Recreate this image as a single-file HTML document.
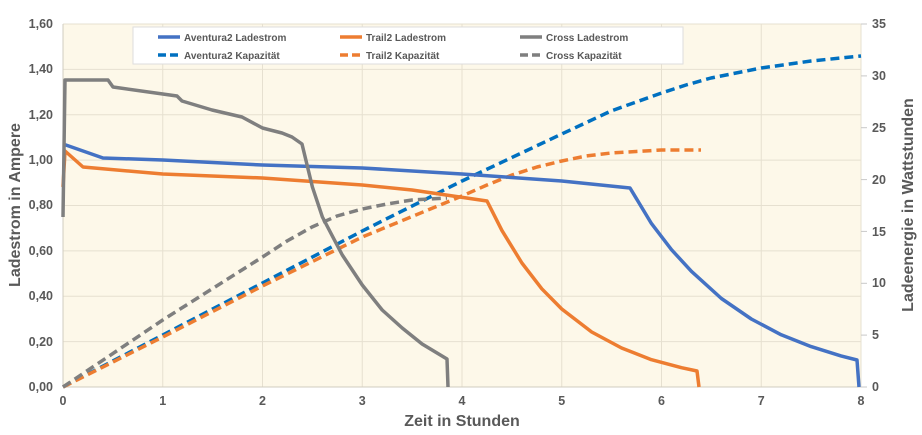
<!DOCTYPE html><html><head><meta charset="utf-8"><style>body{margin:0;background:#fff}svg{display:block;font-family:"Liberation Sans",sans-serif}</style></head><body>
<svg width="922" height="435" viewBox="0 0 922 435">
<rect x="63" y="24" width="798" height="363" fill="#fdf8e9"/>
<g stroke="#e6e0d0" stroke-width="1">
<line x1="63" y1="341.6" x2="861" y2="341.6"/><line x1="63" y1="296.3" x2="861" y2="296.3"/><line x1="63" y1="250.9" x2="861" y2="250.9"/><line x1="63" y1="205.5" x2="861" y2="205.5"/><line x1="63" y1="160.1" x2="861" y2="160.1"/><line x1="63" y1="114.8" x2="861" y2="114.8"/><line x1="63" y1="69.4" x2="861" y2="69.4"/><line x1="63" y1="24" x2="861" y2="24"/>
<line x1="162.75" y1="24" x2="162.75" y2="387"/><line x1="262.5" y1="24" x2="262.5" y2="387"/><line x1="362.25" y1="24" x2="362.25" y2="387"/><line x1="462" y1="24" x2="462" y2="387"/><line x1="561.75" y1="24" x2="561.75" y2="387"/><line x1="661.5" y1="24" x2="661.5" y2="387"/><line x1="761.25" y1="24" x2="761.25" y2="387"/><line x1="861" y1="24" x2="861" y2="387"/>
<line x1="63" y1="387" x2="861" y2="387" stroke="#d0ccc0"/>
<line x1="63" y1="24" x2="63" y2="387" stroke="#d0ccc0"/>
</g>
<g stroke="#c8c8c8"><line x1="861" y1="24" x2="867" y2="24"/><line x1="861" y1="75.9" x2="867" y2="75.9"/><line x1="861" y1="127.7" x2="867" y2="127.7"/><line x1="861" y1="179.6" x2="867" y2="179.6"/><line x1="861" y1="231.4" x2="867" y2="231.4"/><line x1="861" y1="283.3" x2="867" y2="283.3"/><line x1="861" y1="335.1" x2="867" y2="335.1"/><line x1="861" y1="387" x2="867" y2="387"/></g>
<g font-size="12.5" font-weight="bold" fill="#595959" text-anchor="end">
<text x="53" y="391">0,00</text><text x="53" y="346">0,20</text><text x="53" y="300">0,40</text><text x="53" y="255">0,60</text><text x="53" y="209">0,80</text><text x="53" y="164">1,00</text><text x="53" y="119">1,20</text><text x="53" y="73">1,40</text><text x="53" y="28">1,60</text>
</g>
<g font-size="12.5" font-weight="bold" fill="#595959">
<text x="872" y="391">0</text><text x="872" y="339">5</text><text x="872" y="287">10</text><text x="872" y="236">15</text><text x="872" y="184">20</text><text x="872" y="132">25</text><text x="872" y="80">30</text><text x="872" y="28">35</text>
</g>
<g font-size="12.5" font-weight="bold" fill="#595959" text-anchor="middle">
<text x="63" y="405">0</text><text x="162.75" y="405">1</text><text x="262.5" y="405">2</text><text x="362.25" y="405">3</text><text x="462" y="405">4</text><text x="561.75" y="405">5</text><text x="661.5" y="405">6</text><text x="761.25" y="405">7</text><text x="861" y="405">8</text>
</g>
<text x="462" y="426" font-size="16" font-weight="bold" fill="#595959" text-anchor="middle">Zeit in Stunden</text>
<text transform="translate(20,205) rotate(-90)" font-size="16" font-weight="bold" fill="#595959" text-anchor="middle">Ladestrom in Ampere</text>
<text transform="translate(913,205) rotate(-90)" font-size="16" font-weight="bold" fill="#595959" text-anchor="middle">Ladeenergie in Wattstunden</text>
<g fill="none" stroke-width="3.5" stroke-linejoin="round">
<polyline stroke="#0070c0" stroke-dasharray="9,5" points="63,387 162.75,335 262.5,283 362.25,231 462,181 561.75,134 611,111 661.5,93 686,85 711,78 761.25,68 811,61 861,56"/>
<polyline stroke="#ed7d31" stroke-dasharray="9,5" points="63,387 162.75,337 262.5,286 362.25,237 462,196 487,185 512,175 537,167 561.75,161 586,156 611,153 661.5,150 701,150"/>
<polyline stroke="#7f7f7f" stroke-dasharray="9,5" points="63,387 162.75,320 262.5,257 287,241 312,227 337,216 362.25,209 387,204 412,200 447,198"/>
<polyline stroke="#4472c4" points="63,144 103,158 162.75,160 262.5,165 362.25,168 462,174 561.75,181 630,188 651.5,223.6 671.5,249.7 691.4,271.3 721.4,298.5 751.3,319 781.2,334.8 811.1,346.6 841,355.9 857,360 859,387"/>
<polyline stroke="#ed7d31" points="63,187 65,151 83,167 162.75,174 262.5,178 362.25,185 412,190 487,201 501.9,230.4 521.9,263 541.8,288.8 561.75,309 591.7,332 621.6,348 651.5,359.7 681.5,367.7 697,371 699,387"/>
<polyline stroke="#7f7f7f" points="63,217 65,80 108,80 113,87 162.75,94 177,96 182,101 212,110 242,117 262.5,128 282,133 292,137 302,144 312.4,187 322.4,217 342.3,255 362.25,285 382.2,310 402.2,328 422.1,344 447,359 448,387"/>
</g>
<rect x="133" y="27" width="550" height="37" fill="#fff" stroke="#ddd"/>
<g stroke-width="3.5">
<line x1="158" y1="37" x2="180" y2="37" stroke="#4472c4"/><line x1="158" y1="55" x2="180" y2="55" stroke="#0070c0" stroke-dasharray="8,4"/>
<line x1="340" y1="37" x2="362" y2="37" stroke="#ed7d31"/><line x1="340" y1="55" x2="362" y2="55" stroke="#ed7d31" stroke-dasharray="8,4"/>
<line x1="520" y1="37" x2="542" y2="37" stroke="#7f7f7f"/><line x1="520" y1="55" x2="542" y2="55" stroke="#7f7f7f" stroke-dasharray="8,4"/>
</g>
<g font-size="10" font-weight="bold" fill="#595959">
<text x="184" y="41">Aventura2 Ladestrom</text><text x="184" y="59">Aventura2 Kapazität</text>
<text x="366" y="41">Trail2 Ladestrom</text><text x="366" y="59">Trail2 Kapazität</text>
<text x="546" y="41">Cross Ladestrom</text><text x="546" y="59">Cross Kapazität</text>
</g>
</svg></body></html>
